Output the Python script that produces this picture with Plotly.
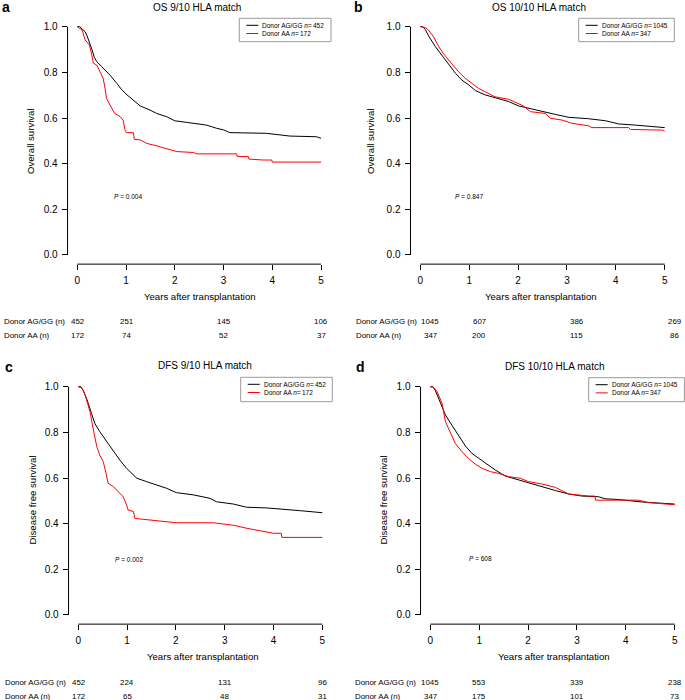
import plotly.graph_objects as go

W, H = 685, 700
FONT = "Liberation Sans, Arial, sans-serif"
BLACK = "#000000"
RED = "#ff0000"

# ---------------- data ----------------
years = [0, 1, 2, 3, 4, 5]
surv_ticks = [0.0, 0.2, 0.4, 0.6, 0.8, 1.0]
surv_ticktext = ["0.0", "0.2", "0.4", "0.6", "0.8", "1.0"]
risk_times = [0, 1, 3, 5]
group_labels = ["Donor AG/GG (n)", "Donor AA (n)"]

# a: OS 9/10
os910_aggg_t = [0, 0.05, 0.1, 0.16, 0.2, 0.26, 0.3, 0.35, 0.4, 0.5, 0.6, 0.67, 0.81, 0.9, 1.0, 1.15, 1.29,
                1.49, 1.63, 1.83, 2.0, 2.24, 2.65, 2.86, 3.0, 3.13, 3.88, 4.16, 4.36, 4.91, 4.97, 5.0]
os910_aggg_s = [1.0, 1.0, 0.99, 0.978, 0.96, 0.927, 0.9, 0.865, 0.847, 0.825, 0.803, 0.788, 0.752, 0.727, 0.705,
                0.679, 0.653, 0.635, 0.62, 0.606, 0.588, 0.581, 0.569, 0.555, 0.548, 0.536, 0.533, 0.526, 0.521,
                0.518, 0.511, 0.511]
os910_aa_t = [0, 0.1, 0.16, 0.25, 0.29, 0.33, 0.4, 0.47, 0.53, 0.57, 0.6, 0.67, 0.77, 0.88, 0.94, 0.98, 1.01,
              1.15, 1.17, 1.29, 1.42, 1.63, 1.83, 2.04, 2.38, 2.45, 3.27, 3.28, 3.51, 3.52, 3.82, 3.99, 4.0, 5.0]
os910_aa_s = [1.0, 0.985, 0.942, 0.92, 0.883, 0.84, 0.832, 0.803, 0.774, 0.73, 0.686, 0.657, 0.62, 0.606, 0.591,
              0.547, 0.536, 0.536, 0.507, 0.504, 0.489, 0.478, 0.467, 0.453, 0.449, 0.443, 0.443, 0.431, 0.431,
              0.42, 0.416, 0.416, 0.407, 0.407]
os910_risk_aggg = [452, 251, 145, 106]
os910_risk_aa = [172, 74, 52, 37]

# b: OS 10/10
os1010_aggg_t = [0, 0.05, 0.1, 0.18, 0.31, 0.44, 0.58, 0.72, 0.85, 0.99, 1.13, 1.33, 1.53, 1.81, 2.01, 2.22,
                 2.49, 2.76, 3.04, 3.44, 3.79, 4.06, 4.4, 4.74, 5.0]
os1010_aggg_s = [1.0, 1.0, 0.988, 0.956, 0.912, 0.876, 0.839, 0.796, 0.766, 0.745, 0.72, 0.701, 0.689, 0.672,
                 0.653, 0.642, 0.628, 0.616, 0.603, 0.597, 0.588, 0.574, 0.569, 0.562, 0.558]
os1010_aa_t = [0, 0.1, 0.17, 0.27, 0.38, 0.48, 0.58, 0.68, 0.78, 0.92, 1.06, 1.19, 1.33, 1.53, 1.81, 1.98, 2.11,
               2.25, 2.56, 2.66, 2.9, 3.1, 3.44, 3.51, 4.26, 4.3, 4.95, 5.0]
os1010_aa_s = [1.0, 0.997, 0.985, 0.956, 0.912, 0.88, 0.854, 0.828, 0.803, 0.774, 0.749, 0.73, 0.715, 0.693,
               0.682, 0.664, 0.653, 0.628, 0.62, 0.599, 0.591, 0.577, 0.566, 0.558, 0.558, 0.55, 0.547, 0.543]
os1010_risk_aggg = [1045, 607, 386, 269]
os1010_risk_aa = [347, 200, 115, 86]

# c: DFS 9/10
dfs910_aggg_t = [0, 0.05, 0.1, 0.18, 0.27, 0.34, 0.44, 0.58, 0.72, 0.85, 0.99, 1.13, 1.2, 1.4, 1.61, 1.81, 2.01,
                 2.36, 2.7, 2.83, 3.18, 3.45, 3.86, 4.13, 4.54, 5.0]
dfs910_aggg_s = [1.0, 1.0, 0.985, 0.942, 0.883, 0.839, 0.803, 0.759, 0.715, 0.679, 0.642, 0.613, 0.599, 0.584,
                 0.569, 0.555, 0.536, 0.526, 0.511, 0.496, 0.486, 0.472, 0.469, 0.463, 0.457, 0.448]
dfs910_aa_t = [0, 0.07, 0.14, 0.24, 0.31, 0.38, 0.44, 0.51, 0.57, 0.61, 0.72, 0.82, 0.92, 0.99, 1.02, 1.13, 1.16,
               1.47, 2.01, 2.77, 3.18, 3.45, 3.8, 4.0, 4.16, 4.17, 5.0]
dfs910_aa_s = [1.0, 0.995, 0.964, 0.89, 0.81, 0.737, 0.7, 0.672, 0.62, 0.577, 0.562, 0.54, 0.518, 0.482, 0.46,
               0.453, 0.423, 0.416, 0.404, 0.404, 0.393, 0.38, 0.365, 0.358, 0.358, 0.34, 0.34]
dfs910_risk_aggg = [452, 224, 131, 96]
dfs910_risk_aa = [172, 65, 48, 31]

# d: DFS 10/10
dfs1010_aggg_t = [0, 0.05, 0.1, 0.2, 0.31, 0.44, 0.58, 0.72, 0.85, 0.99, 1.13, 1.33, 1.53, 1.81, 2.01, 2.28,
                  2.56, 2.83, 3.1, 3.44, 3.58, 3.85, 4.06, 4.33, 5.0]
dfs1010_aggg_s = [1.0, 1.0, 0.985, 0.934, 0.876, 0.832, 0.788, 0.74, 0.708, 0.686, 0.664, 0.635, 0.609, 0.591,
                  0.58, 0.562, 0.545, 0.53, 0.521, 0.518, 0.509, 0.506, 0.501, 0.495, 0.486]
dfs1010_aa_t = [0, 0.07, 0.14, 0.24, 0.31, 0.41, 0.51, 0.65, 0.78, 0.92, 1.06, 1.23, 1.4, 1.6, 1.84, 2.01, 2.28,
                2.56, 2.83, 3.24, 3.37, 3.38, 4.26, 4.47, 5.0]
dfs1010_aa_s = [1.0, 0.997, 0.978, 0.927, 0.847, 0.803, 0.752, 0.715, 0.686, 0.661, 0.642, 0.628, 0.62, 0.606,
                0.599, 0.584, 0.574, 0.559, 0.53, 0.521, 0.521, 0.503, 0.503, 0.492, 0.483]
dfs1010_risk_aggg = [1045, 553, 339, 238]
dfs1010_risk_aa = [347, 175, 101, 73]

# ---------------- panel definitions ----------------
panels = [
    dict(letter="a", title="OS 9/10 HLA match", ytitle="Overall survival", p="<i>P</i> = 0.004",
         aggg=(os910_aggg_t, os910_aggg_s), aa=(os910_aa_t, os910_aa_s),
         n_aggg=452, n_aa=172, risk=(os910_risk_aggg, os910_risk_aa),
         geo=dict(x0=77.3, x5=321.0, y1=26.7, y0=255.0),
         letter_xy=(0, 7), title_xy=(197, 7.5), ytitle_xy=(31, 141), xtitle_xy=(200, 296),
         p_xy=(112, 197), legend_box=(239.3, 18.3, 331.0, 41.7),
         risk_label_x=2, risk_rows=(321, 335), risk_axis=1),
    dict(letter="b", title="OS 10/10 HLA match", ytitle="Overall survival", p="<i>P</i> = 0.847",
         aggg=(os1010_aggg_t, os1010_aggg_s), aa=(os1010_aa_t, os1010_aa_s),
         n_aggg=1045, n_aa=347, risk=(os1010_risk_aggg, os1010_risk_aa),
         geo=dict(x0=420.3, x5=664.7, y1=26.7, y0=255.0),
         letter_xy=(352, 7), title_xy=(539, 7.5), ytitle_xy=(371, 141), xtitle_xy=(541, 296),
         p_xy=(453.5, 197), legend_box=(578.7, 18.3, 674.3, 41.7),
         risk_label_x=354, risk_rows=(321, 335), risk_axis=4),
    dict(letter="c", title="DFS 9/10 HLA match", ytitle="Disease free survival", p="<i>P</i> = 0.002",
         aggg=(dfs910_aggg_t, dfs910_aggg_s), aa=(dfs910_aa_t, dfs910_aa_s),
         n_aggg=452, n_aa=172, risk=(dfs910_risk_aggg, dfs910_risk_aa),
         geo=dict(x0=78.3, x5=322.3, y1=386.7, y0=615.0),
         letter_xy=(3, 367), title_xy=(205, 365.5), ytitle_xy=(31.5, 500), xtitle_xy=(203, 656.5),
         p_xy=(113, 559), legend_box=(240.7, 377.3, 332.3, 401.7),
         risk_label_x=3, risk_rows=(682, 696), risk_axis=3),
    dict(letter="d", title="DFS 10/10 HLA match", ytitle="Disease free survival", p="<i>P</i> = 608",
         aggg=(dfs1010_aggg_t, dfs1010_aggg_s), aa=(dfs1010_aa_t, dfs1010_aa_s),
         n_aggg=1045, n_aa=347, risk=(dfs1010_risk_aggg, dfs1010_risk_aa),
         geo=dict(x0=430.3, x5=674.7, y1=386.7, y0=615.0),
         letter_xy=(354, 367), title_xy=(555, 366), ytitle_xy=(382.5, 500), xtitle_xy=(554, 656),
         p_xy=(467, 558.5), legend_box=(588.7, 377.7, 684.4, 401.7),
         risk_label_x=353, risk_rows=(682, 696), risk_axis=4),
]


def px_x(v):
    return v / W


def px_y(v):
    return 1 - v / H


fig = go.Figure()
annotations = []
shapes = []
layout = {}

XPAD, YPAD = 0.2, 0.04

for i, pn in enumerate(panels, start=1):
    sfx = "" if i == 1 else str(i)
    xa, ya = "x" + sfx, "y" + sfx
    g = pn["geo"]
    ppy = (g["x5"] - g["x0"]) / 5.0
    ppu = (g["y0"] - g["y1"]) / 1.0
    left = g["x0"] - XPAD * ppy
    right = g["x5"] + XPAD * ppy
    top = g["y1"] - YPAD * ppu
    bottom = g["y0"] + YPAD * ppu

    layout["xaxis" + sfx] = dict(
        domain=[px_x(left), px_x(right)], range=[-XPAD, 5 + XPAD], anchor=ya,
        showgrid=False, zeroline=False, showline=False,
        ticks="outside", ticklen=5, tickwidth=1, tickcolor=BLACK,
        tickvals=years, ticktext=[str(v) for v in years],
        tickfont=dict(family=FONT, size=10, color=BLACK), ticklabelstandoff=2,
        fixedrange=True)
    layout["yaxis" + sfx] = dict(
        domain=[px_y(bottom), px_y(top)], range=[-YPAD, 1 + YPAD], anchor=xa,
        showgrid=False, zeroline=False, showline=False,
        ticks="outside", ticklen=5, tickwidth=1, tickcolor=BLACK,
        tickvals=surv_ticks, ticktext=surv_ticktext,
        tickfont=dict(family=FONT, size=10, color=BLACK), ticklabelstandoff=2,
        fixedrange=True)

    # R-style axis lines spanning first to last tick
    shapes.append(dict(type="line", xref=xa, yref="paper", x0=0, x1=5,
                       y0=px_y(bottom), y1=px_y(bottom), line=dict(color=BLACK, width=1)))
    shapes.append(dict(type="line", xref="paper", yref=ya, x0=px_x(left), x1=px_x(left),
                       y0=0, y1=1, line=dict(color=BLACK, width=1)))

    # curves
    t, s = pn["aggg"]
    fig.add_trace(go.Scatter(x=t, y=s, mode="lines", xaxis=xa, yaxis=ya,
                             line=dict(color=BLACK, width=1), name=f"Donor AG/GG n = {pn['n_aggg']}",
                             showlegend=False, hoverinfo="skip"))
    t, s = pn["aa"]
    fig.add_trace(go.Scatter(x=t, y=s, mode="lines", xaxis=xa, yaxis=ya,
                             line=dict(color=RED, width=1), name=f"Donor AA n = {pn['n_aa']}",
                             showlegend=False, hoverinfo="skip"))

    # panel letter
    lx, ly = pn["letter_xy"]
    annotations.append(dict(text=f"<b>{pn['letter']}</b>", xref="paper", yref="paper",
                            x=px_x(lx), y=px_y(ly), xanchor="left", yanchor="middle",
                            showarrow=False, font=dict(family=FONT, size=14, color=BLACK)))
    # title
    tx, ty = pn["title_xy"]
    annotations.append(dict(text=pn["title"], xref="paper", yref="paper",
                            x=px_x(tx), y=px_y(ty), xanchor="center", yanchor="middle",
                            showarrow=False, font=dict(family=FONT, size=10, color=BLACK)))
    # axis titles
    yx, yy = pn["ytitle_xy"]
    annotations.append(dict(text=pn["ytitle"], xref="paper", yref="paper", textangle=-90,
                            x=px_x(yx), y=px_y(yy), xanchor="center", yanchor="middle",
                            showarrow=False, font=dict(family=FONT, size=9.6, color=BLACK)))
    xx, xy = pn["xtitle_xy"]
    annotations.append(dict(text="Years after transplantation", xref="paper", yref="paper",
                            x=px_x(xx), y=px_y(xy), xanchor="center", yanchor="middle",
                            showarrow=False, font=dict(family=FONT, size=9.6, color=BLACK)))
    # P value
    px_, py_ = pn["p_xy"]
    annotations.append(dict(text=pn["p"], xref="paper", yref="paper",
                            x=px_x(px_), y=px_y(py_), xanchor="left", yanchor="middle",
                            showarrow=False, font=dict(family=FONT, size=6.5, color=BLACK)))

    # legend (drawn R-style)
    bx0, by0, bx1, by1 = pn["legend_box"]
    shapes.append(dict(type="rect", xref="paper", yref="paper",
                       x0=px_x(bx0), x1=px_x(bx1), y0=px_y(by0), y1=px_y(by1),
                       line=dict(color="#9a9a9a", width=1), fillcolor="white"))
    rows = [(by0 + 7.0, BLACK, f"Donor AG/GG <i>n</i>=\u2009{pn['n_aggg']}"),
            (by0 + 15.2, RED, f"Donor AA <i>n</i>=\u2009{pn['n_aa']}")]
    for ry, col, txt in rows:
        shapes.append(dict(type="line", xref="paper", yref="paper",
                           x0=px_x(bx0 + 7), x1=px_x(bx0 + 19), y0=px_y(ry), y1=px_y(ry),
                           line=dict(color=col, width=1)))
        annotations.append(dict(text=txt, xref="paper", yref="paper",
                                x=px_x(bx0 + 21), y=px_y(ry), xanchor="left", yanchor="middle",
                                showarrow=False, font=dict(family=FONT, size=6.5, color=BLACK)))

    # number-at-risk table
    rsfx = "" if pn["risk_axis"] == 1 else str(pn["risk_axis"])
    for label, counts, ry in zip(group_labels, pn["risk"], pn["risk_rows"]):
        annotations.append(dict(text=label, xref="paper", yref="paper",
                                x=px_x(pn["risk_label_x"]), y=px_y(ry), xanchor="left", yanchor="middle",
                                showarrow=False, font=dict(family=FONT, size=7.9, color=BLACK)))
        for tt, c in zip(risk_times, counts):
            annotations.append(dict(text=str(c), xref="x" + rsfx, yref="paper",
                                    x=tt, y=px_y(ry), xanchor="center", yanchor="middle",
                                    showarrow=False, font=dict(family=FONT, size=7.9, color=BLACK)))

fig.update_layout(
    width=W, height=H, margin=dict(l=0, r=0, t=0, b=0),
    paper_bgcolor="white", plot_bgcolor="white",
    showlegend=False, annotations=annotations, shapes=shapes,
    font=dict(family=FONT, color=BLACK),
    hovermode=False,
    **layout)

fig.write_html("out.html",
               config={"displayModeBar": False, "staticPlot": True},
               post_script="document.body.style.margin='0';document.body.style.padding='0';"
                           "document.body.style.overflow='hidden';")
